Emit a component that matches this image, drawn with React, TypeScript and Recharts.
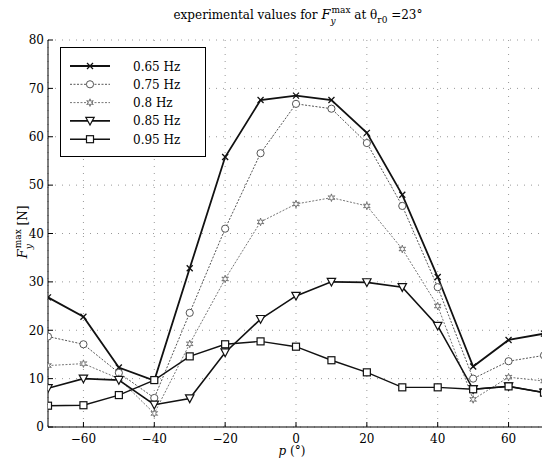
import React from 'react';
import { LineChart, Line, XAxis, YAxis, CartesianGrid, Legend } from 'recharts';

// ---- data ----
const angles = [-70, -60, -50, -40, -30, -20, -10, 0, 10, 20, 30, 40, 50, 60, 70];
const f065 = [26.8, 22.8, 12.3, 9.6, 32.8, 55.8, 67.6, 68.5, 67.6, 60.8, 48.0, 31.0, 12.5, 18.0, 19.3];
const f075 = [18.7, 17.1, 11.2, 6.0, 23.6, 41.0, 56.6, 66.8, 65.8, 58.7, 45.7, 28.9, 10.0, 13.6, 14.8];
const f080 = [12.7, 13.1, 10.0, 2.8, 17.2, 30.6, 42.4, 46.1, 47.4, 45.7, 36.8, 25.0, 5.7, 10.3, 9.5];
const f085 = [8.0, 10.0, 9.7, 4.6, 5.9, 15.4, 22.3, 27.1, 30.0, 29.9, 28.9, 20.9, 7.8, 8.4, 7.1];
const f095 = [4.4, 4.5, 6.6, 9.7, 14.6, 17.1, 17.7, 16.6, 13.8, 11.3, 8.2, 8.2, 7.8, 8.4, 7.1];

const seriesKeys = ['f065', 'f075', 'f080', 'f085', 'f095'];
const seriesNames = ['0.65 Hz', '0.75 Hz', '0.8 Hz', '0.85 Hz', '0.95 Hz'];
const xTicks = [-60, -40, -20, 0, 20, 40, 60];
const yTicks = [0, 10, 20, 30, 40, 50, 60, 70, 80];

const data = angles.map((p, i) => ({
  p,
  f065: f065[i],
  f075: f075[i],
  f080: f080[i],
  f085: f085[i],
  f095: f095[i],
}));

// ---- styles ----
const FONT = "'DejaVu Serif', serif";
const seriesStyles: Record<string, { stroke: string; width: number; dash?: string; marker: string }> = {
  f065: { stroke: '#111', width: 1.8, marker: 'x' },
  f075: { stroke: '#555', width: 1, dash: '2 1.5', marker: 'circle' },
  f080: { stroke: '#666', width: 0.9, dash: '2 1.5', marker: 'star' },
  f085: { stroke: '#111', width: 1.6, marker: 'tri' },
  f095: { stroke: '#111', width: 1.4, marker: 'square' },
};

function Marker({ kind, cx, cy, color }: { kind: string; cx: number; cy: number; color: string }) {
  if (cx == null || cy == null || isNaN(cx) || isNaN(cy)) return null;
  switch (kind) {
    case 'x':
      return (
        <g stroke={color} strokeWidth={1.3}>
          <line x1={cx - 3} y1={cy - 3} x2={cx + 3} y2={cy + 3} />
          <line x1={cx - 3} y1={cy + 3} x2={cx + 3} y2={cy - 3} />
        </g>
      );
    case 'circle':
      return <circle cx={cx} cy={cy} r={3.6} fill="#fff" stroke={color} strokeWidth={1} />;
    case 'star': {
      const pts: string[] = [];
      for (let k = 0; k < 12; k++) {
        const r = k % 2 === 0 ? 3.8 : 1.6;
        const a = (Math.PI / 6) * k - Math.PI / 2;
        pts.push(`${cx + r * Math.cos(a)},${cy + r * Math.sin(a)}`);
      }
      return <polygon points={pts.join(' ')} fill="#fff" stroke={color} strokeWidth={0.9} />;
    }
    case 'tri':
      return (
        <polygon
          points={`${cx - 4.2},${cy - 3.6} ${cx + 4.2},${cy - 3.6} ${cx},${cy + 4.2}`}
          fill="#fff"
          stroke={color}
          strokeWidth={1.2}
        />
      );
    case 'square':
      return <rect x={cx - 3.5} y={cy - 3.5} width={7} height={7} fill="#fff" stroke={color} strokeWidth={1.2} />;
    default:
      return null;
  }
}

const X_TICK_MARGIN = 7;
const Y_TICK_MARGIN = 4;
const fmt = (v: number) => (v < 0 ? '\u2212' + Math.abs(v) : String(v));

const XTick = (props: any) => {
  const { x, y, payload } = props;
  const axisY = y - X_TICK_MARGIN;
  return (
    <g>
      <line x1={x} x2={x} y1={axisY} y2={axisY - 5} stroke="#000" strokeWidth={1} />
      <text x={x} y={y} dy="0.71em" textAnchor="middle" fontFamily={FONT} fontSize={12} fill="#000">
        {fmt(payload.value)}
      </text>
    </g>
  );
};

const TopTick = (props: any) => {
  const { x, y } = props;
  return <line x1={x} x2={x} y1={y} y2={y + 5} stroke="#000" strokeWidth={1} />;
};

const YTick = (props: any) => {
  const { x, y, payload } = props;
  const axisX = x + Y_TICK_MARGIN;
  return (
    <g>
      <line x1={axisX} x2={axisX + 5} y1={y} y2={y} stroke="#000" strokeWidth={1} />
      <text x={x} y={y} dy="0.355em" textAnchor="end" fontFamily={FONT} fontSize={12} fill="#000">
        {payload.value}
      </text>
    </g>
  );
};

const LegendBox = () => (
  <svg width={147} height={111} style={{ display: 'block' }}>
    <rect x={0.5} y={0.5} width={145} height={109} fill="#fff" stroke="#000" strokeWidth={1} />
    {seriesKeys.map((k, i) => {
      const s = seriesStyles[k];
      const cy = 19 + i * 18.3;
      return (
        <g key={k}>
          <line x1={10} x2={50} y1={cy} y2={cy} stroke={s.stroke} strokeWidth={s.width} strokeDasharray={s.dash} />
          <Marker kind={s.marker} cx={30} cy={cy} color={s.stroke} />
          <text x={73} y={cy + 4.5} fontFamily={FONT} fontSize={12} fill="#000">
            {seriesNames[i]}
          </text>
        </g>
      );
    })}
  </svg>
);

export default function App() {
  return (
    <div
      style={{
        position: 'absolute',
        left: 0,
        top: 0,
        width: 542,
        height: 461,
        overflow: 'hidden',
        background: '#fff',
      }}
    >
      <LineChart width={550} height={461} data={data} margin={{ top: 40, right: 6, left: 0, bottom: 4 }}>
        <CartesianGrid stroke="#999" strokeDasharray="1 6" strokeWidth={1} />
        <XAxis
          dataKey="p"
          type="number"
          domain={[-70, 70]}
          ticks={xTicks}
          allowDataOverflow
          height={30}
          tickSize={0}
          tickMargin={X_TICK_MARGIN}
          tickLine={false}
          axisLine={{ stroke: '#000', strokeWidth: 1 }}
          tick={<XTick />}
        />
        <XAxis
          xAxisId="top"
          orientation="top"
          dataKey="p"
          type="number"
          domain={[-70, 70]}
          ticks={xTicks}
          allowDataOverflow
          height={0}
          tickSize={0}
          tickMargin={0}
          tickLine={false}
          axisLine={{ stroke: '#000', strokeWidth: 1 }}
          tick={<TopTick />}
        />
        <YAxis
          type="number"
          domain={[0, 80]}
          ticks={yTicks}
          width={48}
          tickSize={0}
          tickMargin={Y_TICK_MARGIN}
          tickLine={false}
          axisLine={{ stroke: '#000', strokeWidth: 1 }}
          tick={<YTick />}
        />
        <Legend
          layout="vertical"
          align="center"
          verticalAlign="middle"
          wrapperStyle={{ left: 60, top: 47, width: 147, height: 111 }}
          content={() => <LegendBox />}
        />
        {seriesKeys.map((k, i) => {
          const s = seriesStyles[k];
          return (
            <Line
              key={k}
              dataKey={k}
              name={seriesNames[i]}
              type="linear"
              stroke={s.stroke}
              strokeWidth={s.width}
              strokeDasharray={s.dash}
              isAnimationActive={false}
              dot={(props: any) => (
                <Marker key={`${k}-${props.index}`} kind={s.marker} cx={props.cx} cy={props.cy} color={s.stroke} />
              )}
              activeDot={false}
            />
          );
        })}
      </LineChart>
      <svg
        width={542}
        height={461}
        style={{ position: 'absolute', left: 0, top: 0, pointerEvents: 'none' }}
      >
        <text x={298} y={19} textAnchor="middle" fontFamily={FONT} fontSize={12} fill="#000">
          experimental values for{' '}
          <tspan fontStyle="italic" fontSize={13}>F</tspan>
          <tspan fontStyle="italic" fontSize={9} dy={5}>y</tspan>
          <tspan fontSize={9} dx={-4} dy={-11}>max</tspan>
          <tspan dy={6}>{' at \u03b8'}</tspan>
          <tspan fontSize={9} dy={4}>r0</tspan>
          <tspan dy={-4}>{' =23\u00b0'}</tspan>
        </text>
        <text
          transform="translate(27,232) rotate(-90)"
          textAnchor="middle"
          fontFamily={FONT}
          fontSize={12}
          fill="#000"
        >
          <tspan fontStyle="italic" fontSize={13}>F</tspan>
          <tspan fontStyle="italic" fontSize={9} dy={5}>y</tspan>
          <tspan fontSize={9} dx={-4} dy={-11}>max</tspan>
          <tspan dy={6}>{' [N]'}</tspan>
        </text>
        <text x={292} y={455} textAnchor="middle" fontFamily={FONT} fontSize={12} fill="#000">
          <tspan fontStyle="italic">p</tspan>
          {' (\u00b0)'}
        </text>
      </svg>
    </div>
  );
}
